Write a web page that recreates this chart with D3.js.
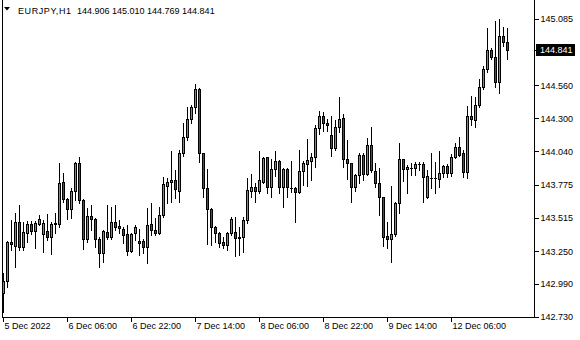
<!DOCTYPE html>
<html>
<head>
<meta charset="utf-8">
<script src="https://cdn.jsdelivr.net/npm/d3@7/dist/d3.min.js"></script>
<style>
  html, body { margin: 0; padding: 0; background: #ffffff; }
  svg { display: block; }
  text { font-family: "Liberation Sans", Arial, sans-serif; font-size: 9px; fill: #000; }
</style>
</head>
<body>
<svg id="chart" width="580" height="340"></svg>
<script>
// ---- data (EURJPY, H1) ----
const symbol = "EURJPY,H1";
const header = [144.906, 145.010, 144.769, 144.841];
const timeLabels = ["5 Dec 2022", "6 Dec 06:00", "6 Dec 22:00", "7 Dec 14:00", "8 Dec 06:00", "8 Dec 22:00", "9 Dec 14:00", "12 Dec 06:00"];
const timeLabelBars = [0, 16, 32, 48, 64, 80, 96, 112];
const priceTicks = [145.085, 144.560, 144.300, 144.040, 143.775, 143.515, 143.250, 142.990, 142.730];
const lastPrice = 144.841;

const open = [
142.918, 143.017, 143.321, 143.290, 143.481, 143.286, 143.397, 143.465, 143.408, 143.465,
143.384, 143.406, 143.360, 143.473, 143.461, 143.795, 143.661, 143.582, 143.728, 143.945,
143.655, 143.345, 143.526, 143.503, 143.345, 143.239, 143.400, 143.365, 143.479, 143.450,
143.424, 143.386, 143.254, 143.390, 143.331, 143.330, 143.280, 143.463, 143.416, 143.397,
143.536, 143.768, 143.795, 143.813, 143.728, 144.024, 144.155, 144.293, 144.387, 144.530,
144.024, 143.747, 143.582, 143.444, 143.397, 143.323, 143.302, 143.392, 143.405, 143.365,
143.360, 143.497, 143.728, 143.755, 143.722, 143.800, 143.992, 143.755, 143.898, 143.963,
143.755, 143.898, 143.752, 143.747, 143.721, 143.886, 143.937, 143.966, 143.992, 144.221,
144.319, 144.261, 144.168, 144.063, 144.229, 144.300, 143.976, 143.945, 143.755, 143.853,
144.011, 143.861, 144.090, 143.886, 143.787, 143.676, 143.370, 143.349, 143.384, 143.629,
143.976, 143.898, 143.910, 143.905, 143.937, 143.937, 143.676, 143.830, 143.828, 143.823,
143.866, 143.924, 143.866, 143.992, 144.071, 144.024, 143.879, 144.319, 144.287, 144.406,
144.545, 144.688, 144.840, 144.782, 144.590, 144.951, 144.906
];
const high = [
143.081, 143.331, 143.497, 143.552, 143.615, 143.484, 143.489, 143.489, 143.489, 143.534,
143.493, 143.544, 143.481, 143.550, 143.945, 143.866, 143.671, 143.752, 143.958, 143.997,
143.663, 143.592, 143.613, 143.510, 143.360, 143.415, 143.615, 143.600, 143.615, 143.497,
143.444, 143.457, 143.397, 143.457, 143.422, 143.345, 143.592, 143.629, 143.510, 143.602,
143.834, 143.826, 144.042, 143.892, 144.050, 144.261, 144.392, 144.405, 144.571, 144.538,
144.029, 143.898, 143.590, 143.452, 143.402, 143.365, 143.405, 143.523, 143.523, 143.444,
143.523, 143.826, 143.860, 143.789, 144.042, 143.997, 143.997, 143.976, 144.042, 143.971,
143.906, 143.906, 143.963, 143.755, 144.050, 143.963, 144.137, 144.029, 144.248, 144.358,
144.353, 144.293, 144.319, 144.287, 144.469, 144.334, 144.129, 143.950, 143.861, 144.029,
144.024, 144.142, 144.234, 143.945, 143.905, 143.681, 143.484, 143.766, 143.642, 144.108,
143.981, 143.929, 143.945, 143.958, 143.958, 143.958, 143.892, 144.029, 143.958, 144.042,
143.932, 143.940, 144.018, 144.103, 144.150, 144.050, 144.398, 144.477, 144.471, 144.609,
144.714, 145.011, 144.853, 145.069, 145.083, 145.024, 145.010
];
const low = [
142.773, 142.970, 143.260, 143.128, 143.260, 143.260, 143.326, 143.386, 143.278, 143.457,
143.247, 143.339, 143.228, 143.394, 143.439, 143.642, 143.503, 143.510, 143.655, 143.629,
143.266, 143.326, 143.418, 143.286, 143.126, 143.165, 143.345, 143.347, 143.418, 143.392,
143.313, 143.220, 143.240, 143.339, 143.220, 143.234, 143.157, 143.378, 143.378, 143.386,
143.523, 143.634, 143.642, 143.668, 143.642, 144.003, 144.129, 144.261, 144.340, 143.958,
143.681, 143.307, 143.299, 143.326, 143.286, 143.273, 143.260, 143.378, 143.213, 143.220,
143.247, 143.476, 143.679, 143.642, 143.708, 143.787, 143.713, 143.681, 143.845, 143.708,
143.602, 143.681, 143.721, 143.484, 143.713, 143.774, 143.766, 143.813, 143.918, 144.174,
144.202, 144.202, 144.003, 144.050, 144.195, 143.918, 143.819, 143.642, 143.729, 143.787,
143.813, 143.853, 143.876, 143.755, 143.540, 143.292, 143.278, 143.168, 143.371, 143.550,
143.807, 143.713, 143.853, 143.853, 143.892, 143.642, 143.672, 143.747, 143.713, 143.755,
143.839, 143.834, 143.845, 143.984, 144.003, 143.839, 143.826, 144.248, 144.234, 144.392,
144.529, 144.669, 144.767, 144.550, 144.503, 144.872, 144.769
];
const close = [
143.017, 143.323, 143.305, 143.481, 143.286, 143.402, 143.465, 143.408, 143.471, 143.503,
143.476, 143.360, 143.465, 143.463, 143.789, 143.661, 143.582, 143.728, 143.945, 143.655,
143.345, 143.526, 143.503, 143.345, 143.239, 143.409, 143.365, 143.479, 143.444, 143.431,
143.378, 143.254, 143.386, 143.439, 143.318, 143.280, 143.456, 143.418, 143.397, 143.536,
143.779, 143.795, 143.813, 143.740, 144.024, 144.155, 144.293, 144.387, 144.530, 144.024,
143.747, 143.582, 143.444, 143.397, 143.318, 143.302, 143.392, 143.503, 143.352, 143.352,
143.497, 143.734, 143.755, 143.722, 143.813, 143.984, 143.755, 143.898, 143.963, 143.755,
143.898, 143.755, 143.750, 143.721, 143.884, 143.945, 143.971, 143.992, 144.221, 144.319,
144.261, 144.245, 144.063, 144.229, 144.293, 143.981, 143.945, 143.755, 143.853, 144.011,
143.861, 144.090, 143.890, 143.787, 143.676, 143.365, 143.349, 143.384, 143.629, 143.976,
143.898, 143.916, 143.908, 143.937, 143.938, 143.839, 143.842, 143.826, 143.830, 143.866,
143.924, 143.871, 143.992, 144.071, 144.010, 143.879, 144.319, 144.293, 144.406, 144.545,
144.688, 144.840, 144.782, 144.590, 144.951, 144.901, 144.841
];

// ---- layout ----
const W = 580, H = 340;
const plot = { left: 2.5, right: 534.5, bottom: 317.5, top: 0 };
const bullColor = "#3cb93c";
const bearColor = "#d01818";

const candles = open.map((o, i) => ({ i, o, h: high[i], l: low[i], c: close[i] }));

const x = d3.scaleLinear().domain([0, candles.length - 1]).range([3.5, 3.5 + 4 * (candles.length - 1)]);
const y = d3.scaleLinear().domain([142.730, 145.085]).range([317, 19]);

const svg = d3.select("#chart");
svg.append("rect").attr("width", W).attr("height", H).attr("fill", "#fff");

// frame
const frame = svg.append("g").attr("shape-rendering", "crispEdges").attr("stroke", "#000").attr("stroke-width", 1);
frame.append("line").attr("x1", plot.left).attr("x2", plot.left).attr("y1", 0).attr("y2", plot.bottom);
frame.append("line").attr("x1", plot.right).attr("x2", plot.right).attr("y1", 0).attr("y2", plot.bottom);
frame.append("line").attr("x1", plot.left).attr("x2", plot.right).attr("y1", plot.bottom).attr("y2", plot.bottom);

// candles
const g = svg.append("g").attr("shape-rendering", "crispEdges");
g.selectAll("line.wick").data(candles).join("line")
  .attr("class", "wick")
  .attr("x1", d => x(d.i)).attr("x2", d => x(d.i))
  .attr("y1", d => Math.round(y(d.h))).attr("y2", d => Math.round(y(d.l)) + 1)
  .attr("stroke", "#000").attr("stroke-width", 1);

g.selectAll("rect.body").data(candles).join("rect")
  .attr("class", "body")
  .attr("x", d => x(d.i) - 1)
  .attr("width", 2)
  .attr("y", d => Math.round(y(Math.max(d.o, d.c))) + 0.5)
  .attr("height", d => Math.max(0.001, Math.round(y(Math.min(d.o, d.c))) - Math.round(y(Math.max(d.o, d.c)))))
  .attr("fill", d => d.c >= d.o ? bullColor : bearColor)
  .attr("stroke", "#000").attr("stroke-width", 1);

// y axis (right)
const yAxis = d3.axisRight(y).tickValues(priceTicks).tickFormat(d3.format(".3f")).tickSize(4).tickPadding(2);
const ya = svg.append("g").attr("transform", `translate(${plot.right},0)`).call(yAxis);
ya.select(".domain").remove();
ya.selectAll("line").attr("stroke", "#000").attr("shape-rendering", "crispEdges");
ya.selectAll("text").attr("font-family", "Liberation Sans, Arial, sans-serif").attr("font-size", 9).attr("fill", "#000");

// current price label
const py = y(lastPrice);
svg.append("line").attr("x1", plot.right).attr("x2", plot.right + 4).attr("y1", Math.round(py) + 0.5).attr("y2", Math.round(py) + 0.5)
  .attr("stroke", "#000").attr("shape-rendering", "crispEdges");
svg.append("rect").attr("x", 536).attr("y", Math.round(py) - 6).attr("width", 39).attr("height", 12).attr("fill", "#000");
svg.append("text").attr("x", 540).attr("y", py).attr("dy", "0.35em").style("fill", "#fff").text(d3.format(".3f")(lastPrice));

// x axis labels
const xa = svg.append("g");
xa.selectAll("line").data(timeLabelBars).join("line")
  .attr("x1", d => x(d)).attr("x2", d => x(d)).attr("y1", plot.bottom).attr("y2", plot.bottom + 4)
  .attr("stroke", "#000").attr("shape-rendering", "crispEdges");
xa.selectAll("text").data(timeLabelBars).join("text")
  .attr("x", d => x(d) + 1).attr("y", 328.5)
  .text((d, k) => timeLabels[k]);

// header
svg.append("path").attr("d", "M4,7 L10,7 L7,10.5 Z").attr("fill", "#000");
svg.append("text").attr("x", 18).attr("y", 13.5).attr("textLength", 53).text(symbol);
svg.append("text").attr("x", 77).attr("y", 13.5)
  .text(header.map(d3.format(".3f")).join(" "));
</script>
</body>
</html>
